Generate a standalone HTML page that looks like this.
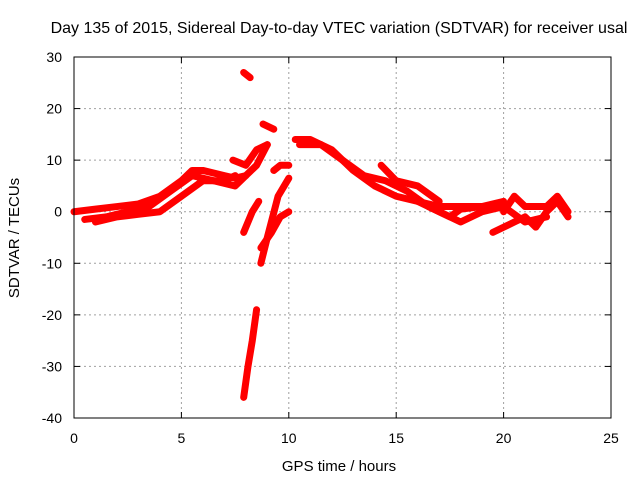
<!DOCTYPE html>
<html><head><meta charset="utf-8"><style>
body{margin:0;background:#fff}
svg text{font-family:"Liberation Sans",sans-serif;font-size:14px;fill:#000}
</style></head><body>
<svg id="c" width="640" height="480" xmlns="http://www.w3.org/2000/svg">
<text x="339" y="33" text-anchor="middle" style="font-size:16px">Day 135 of 2015, Sidereal Day-to-day VTEC variation (SDTVAR) for receiver usal</text>
<text x="339" y="471" text-anchor="middle" style="font-size:15px">GPS time / hours</text>
<text transform="translate(19,238) rotate(-90)" text-anchor="middle" style="font-size:15px">SDTVAR / TECUs</text>
<g id="grid"></g><g id="ticks"></g><g id="data"></g>
<rect x="74" y="57" width="537" height="361" fill="none" stroke="#000"/>
</svg>
<script>
const xTicks=[0,5,10,15,20,25];
const yTicks=[-40,-30,-20,-10,0,10,20,30];
const s1=[[0,0],[1,0.5],[2,1],[3,1.5],[4,3],[5,6],[5.5,8],[6,8],[7,7],[7.5,6.5],[8,7]];
const s2=[[0.5,-1.5],[1.5,-1],[2.5,0],[3.5,1],[4.5,4],[5.5,7],[6.5,6],[7.5,5],[8.5,9],[9,13]];
const s3=[[1,-2],[2,-1],[3,-0.5],[4,0],[5,3],[6,6],[7,6],[7.5,7]];
const s4=[[7.9,27],[8.2,26]];
const s5=[[8.8,17],[9.3,16]];
const s6=[[7.9,-36],[8.1,-30],[8.3,-25],[8.5,-19]];
const s7=[[7.9,-4],[8.3,0],[8.6,2]];
const s8=[[8.7,-10],[9,-5],[9.5,3],[10,6.5]];
const s9=[[8.7,-7],[9.2,-4],[9.6,-1],[10,0]];
const s10=[[7.4,10],[8,9],[8.5,12],[9,13]];
const s11=[[9.3,8],[9.6,9],[10,9]];
const s12=[[10.3,14],[11,14],[12,12],[13,8],[14,5],[15,3],[16,2],[17,1],[18,1],[19,1],[20,2]];
const s13=[[10.5,13],[11.5,13],[12.5,10],[13.5,7],[14.5,6],[15.5,4],[16.5,1],[17.5,-1],[18,0.5],[19,1]];
const s14=[[14.3,9],[15,6],[16,5],[17,2]];
const s15=[[19.5,-4],[20.5,-2],[21,-1],[21.5,-3],[22,0],[22.5,2],[23,-1]];
const s16=[[20,0],[20.5,3],[21,1],[22,1],[22.5,3],[23,0]];
const s17=[[16,2],[17,0],[18,-2],[19,0],[20,1],[21,-2],[22,-1]];
const series=[s1,s2,s3,s4,s5,s6,s7,s8,s9,s10,s11,s12,s13,s14,s15,s16,s17];
const X=v=>74+v*537/25, Y=v=>418-(v+40)*361/70;
const NS="http://www.w3.org/2000/svg";
const grid=document.getElementById('grid'),ticks=document.getElementById('ticks'),data=document.getElementById('data');
function mk(t,a,p){const e=document.createElementNS(NS,t);for(const k in a)e.setAttribute(k,a[k]);p.appendChild(e);return e;}
xTicks.forEach(v=>{
 if(v>0&&v<25){const g=mk('line',{x1:X(v),x2:X(v),y1:57,y2:418,stroke:'#a0a0a0','stroke-dasharray':'2,3'},grid);
 }
 mk('line',{x1:X(v),x2:X(v),y1:418,y2:412,stroke:'#000'},ticks);mk('line',{x1:X(v),x2:X(v),y1:57,y2:63,stroke:'#000'},ticks);
 const t=mk('text',{x:X(v),y:443,'text-anchor':'middle'},ticks);t.textContent=v;
 
});
yTicks.forEach(v=>{
 if(v>-40&&v<30){const g=mk('line',{x1:74,x2:611,y1:Y(v),y2:Y(v),stroke:'#a0a0a0','stroke-dasharray':'2,3'},grid);
 }
 mk('line',{x1:74,x2:80,y1:Y(v),y2:Y(v),stroke:'#000'},ticks);mk('line',{x1:611,x2:605,y1:Y(v),y2:Y(v),stroke:'#000'},ticks);
 const t=mk('text',{x:62,y:Y(v)+5,'text-anchor':'end'},ticks);t.textContent=v;
 
});
series.forEach((s,i)=>{
 const p=mk('polyline',{points:s.map(d=>X(d[0])+','+Y(d[1])).join(' '),fill:'none',stroke:'#ff0000','stroke-width':7,'stroke-linejoin':'round','stroke-linecap':'round'},data);
 
 
});
</script>
</body></html>
